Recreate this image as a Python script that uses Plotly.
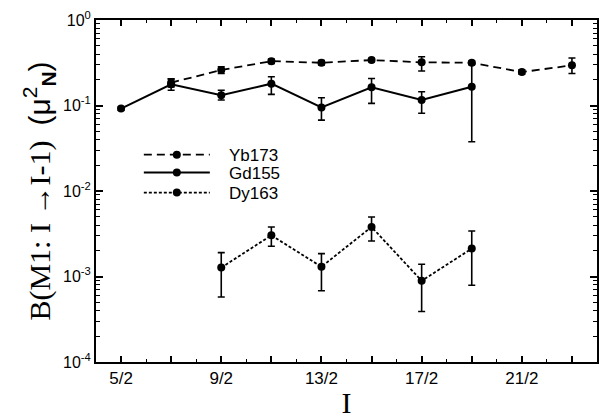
import plotly.graph_objects as go

# Spin values I (numeric, plotted as fractions)
x_yb = [3.5, 4.5, 5.5, 6.5, 7.5, 8.5, 9.5, 10.5, 11.5]
yb_val = [0.185, 0.26, 0.33, 0.316, 0.34, 0.32, 0.316, 0.246, 0.295]
yb_hi = [0.205, 0.284, 0.35, 0.335, 0.355, 0.372, 0.33, 0.262, 0.36]
yb_lo = [0.165, 0.237, 0.31, 0.298, 0.325, 0.253, 0.30, 0.232, 0.237]

x_gd = [2.5, 3.5, 4.5, 5.5, 6.5, 7.5, 8.5, 9.5]
gd_val = [0.092, 0.177, 0.132, 0.18, 0.095, 0.163, 0.116, 0.166]
gd_hi = [0.096, 0.204, 0.151, 0.217, 0.123, 0.207, 0.145, 0.311]
gd_lo = [0.088, 0.151, 0.116, 0.135, 0.0675, 0.106, 0.081, 0.0376]

x_dy = [4.5, 5.5, 6.5, 7.5, 8.5, 9.5]
dy_val = [1.27e-3, 3.03e-3, 1.3e-3, 3.8e-3, 8.9e-4, 2.12e-3]
dy_hi = [1.9e-3, 3.8e-3, 1.85e-3, 4.97e-3, 1.39e-3, 3.4e-3]
dy_lo = [5.75e-4, 2.26e-3, 6.8e-4, 2.6e-3, 3.9e-4, 7.9e-4]

x_label_alias = {"2.5": "5/2", "4.5": "9/2", "6.5": "13/2", "8.5": "17/2", "10.5": "21/2"}
y_tickvals = [1e-4, 1e-3, 1e-2, 1e-1, 1]
y_ticktext = ["10<sup>-4</sup>", "10<sup>-3</sup>", "10<sup>-2</sup>", "10<sup>-1</sup>", "10<sup>0</sup>"]

SANS = "Liberation Sans, Arial, sans-serif"
SERIF = "Liberation Serif, Times New Roman, serif"
PAD = "\u00a0\u00a0\u00a0"


def err(v, hi, lo):
    return dict(type="data", symmetric=False,
                array=[h - a for a, h in zip(v, hi)],
                arrayminus=[a - l for a, l in zip(v, lo)],
                color="black", thickness=1.6, width=3.5)


fig = go.Figure()
fig.add_trace(go.Scatter(x=x_yb, y=yb_val, name=PAD + "Yb173", mode="lines+markers",
                         line=dict(color="black", width=1.8, dash="8px,5px"),
                         marker=dict(color="black", size=8), legend="legend",
                         error_y=err(yb_val, yb_hi, yb_lo)))
fig.add_trace(go.Scatter(x=x_gd, y=gd_val, name=PAD + "Gd155", mode="lines+markers",
                         line=dict(color="black", width=2),
                         marker=dict(color="black", size=8), legend="legend2",
                         error_y=err(gd_val, gd_hi, gd_lo)))
fig.add_trace(go.Scatter(x=x_dy, y=dy_val, name=PAD + "Dy163", mode="lines+markers",
                         line=dict(color="black", width=1.8, dash="3px,2px"),
                         marker=dict(color="black", size=8), legend="legend3",
                         error_y=err(dy_val, dy_hi, dy_lo)))

leg_common = dict(x=0.0855, xanchor="left", yanchor="middle",
                  bgcolor="rgba(0,0,0,0)", font=dict(family=SANS, size=17),
                  itemwidth=66)

fig.update_layout(
    width=599, height=419,
    margin=dict(l=96, r=0, t=20, b=57),
    paper_bgcolor="white", plot_bgcolor="white",
    font=dict(family=SANS, color="black", size=16),
    showlegend=True,
    legend=dict(y=0.605, **leg_common),
    legend2=dict(y=0.553, **leg_common),
    legend3=dict(y=0.494, **leg_common),
    xaxis=dict(range=[2, 12], tickmode="linear", tick0=2.5, dtick=1, ticklabelstep=2,
               labelalias=x_label_alias,
               ticks="inside", ticklen=6, tickwidth=1.5, tickcolor="black",
               showline=True, linecolor="black", linewidth=2, mirror="ticks",
               showgrid=False, zeroline=False,
               tickfont=dict(family=SANS, size=17),
               minor=dict(tick0=2, dtick=1, ticks="inside", ticklen=3,
                          tickwidth=1.2, tickcolor="black", showgrid=False),
               title=dict(text="I", font=dict(family=SERIF, size=30), standoff=8)),
    yaxis=dict(type="log", range=[-4, 0], tickmode="array", tickvals=y_tickvals,
               ticktext=y_ticktext, ticks="inside", ticklen=7, tickwidth=1.5,
               tickcolor="black", showline=True, linecolor="black", linewidth=2,
               mirror="ticks", showgrid=False, zeroline=False,
               tickfont=dict(family=SANS, size=16),
               minor=dict(dtick="D1", ticks="inside", ticklen=4, tickwidth=1.2,
                          tickcolor="black", showgrid=False),
               title=dict(text="B(M1: I →I-1)  <span style='font-family:Liberation Sans, Arial'>(μ<sup>2</sup><sub><b>N</b></sub>)</span>",
                          font=dict(family=SERIF, size=30), standoff=4)),
)

fig.write_html("out.html")
